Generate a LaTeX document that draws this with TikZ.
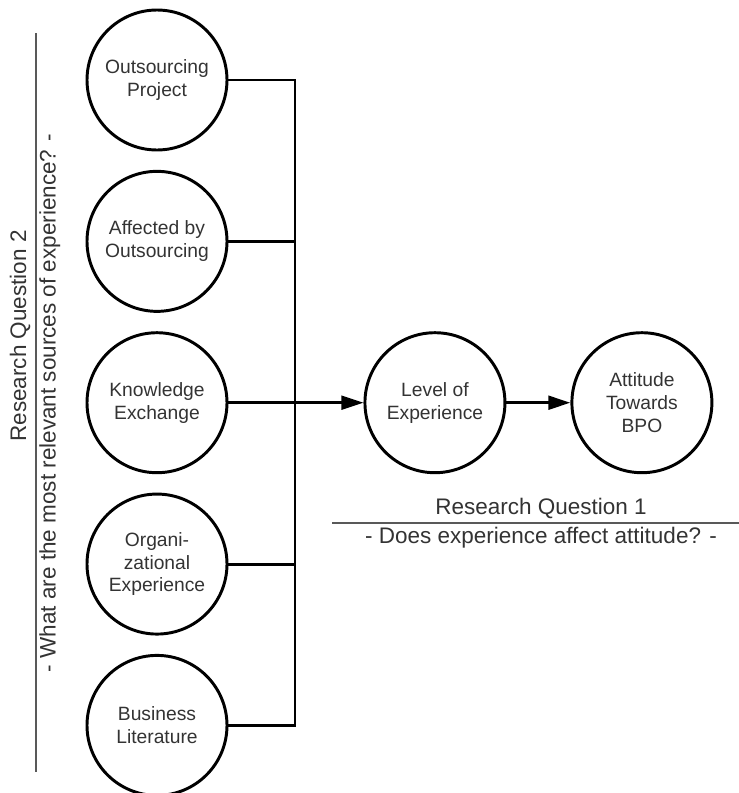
\documentclass[tikz,border=0pt]{standalone}
\usepackage{fontspec}
\setmainfont{Liberation Sans}
\usetikzlibrary{positioning}
\usetikzlibrary{arrows.meta}

\begin{document}
\begin{tikzpicture}[
	  factor/.style = {shape=circle, draw, line width=2.1pt, minimum size=3.5cm, inner sep=0pt, align=center, text=black!80, font=\fontsize{13.7}{16.2}\selectfont},
	  link/.style = {draw, line width=2.1pt},
	  arrowlink/.style = {link, -{Triangle[length=5.5mm, width=3.4mm]}},
	  rule/.style = {draw, line width=1pt, black!65},
	  question/.style = {text=black!80, font=\fontsize{16}{19}\selectfont, inner sep=0pt},
	  node distance=0.46cm
	]
	  \useasboundingbox (-3.925,2.0) rectangle (14.55,-17.825);

	  \node[factor] (project) at (0,0) {Outsourcing\\Project};
	  \node[factor, below=of project] (affected) {Affected by\\Outsourcing};
	  \node[factor, below=of affected] (exchange) {Knowledge\\Exchange};
	  \node[factor, below=of exchange] (organizational) {Organi-\\zational\\Experience};
	  \node[factor, below=of organizational] (literature) {Business\\Literature};

	  \node[factor, right=3.375cm of exchange] (level) {Level of\\Experience};
	  \node[factor, right=1.6cm of level] (attitude) {Attitude\\Towards\\BPO};

	  \coordinate (bustop) at ([xshift=3.45cm]project.center);
	  \coordinate (busbot) at ([xshift=3.45cm]literature.center);
	  \draw[link] (project) -- (bustop) -- (busbot) -- (literature);
	  \foreach \src in {affected, organizational}
	    \draw[link] (\src) -- (\src -| bustop);
	  \draw[arrowlink] (exchange) -- (level);
	  \draw[arrowlink] (level) -- (attitude);

	  \coordinate (rq1left) at (4.375,-11.075);
	  \coordinate (rq1right) at (14.55,-11.075);
	  \draw[rule] (rq1left) -- (rq1right);
	  \node[question] (rq1title) at (9.6,-10.7) {Research Question 1};
	  \node[question] (rq1sub) at (9.6,-11.45) {- Does experience affect attitude? -};

	  \coordinate (rq2top) at (-3.025,1.175);
	  \coordinate (rq2bot) at (-3.025,-17.3);
	  \draw[rule] (rq2top) -- (rq2bot);
	  \node[question, rotate=90] (rq2title) at (-3.42,-6.4) {Research Question 2};
	  \node[question, rotate=90] (rq2sub) at (-2.68,-8.075) {- What are the most relevant sources of experience? -};
	\end{tikzpicture}
\end{document}
